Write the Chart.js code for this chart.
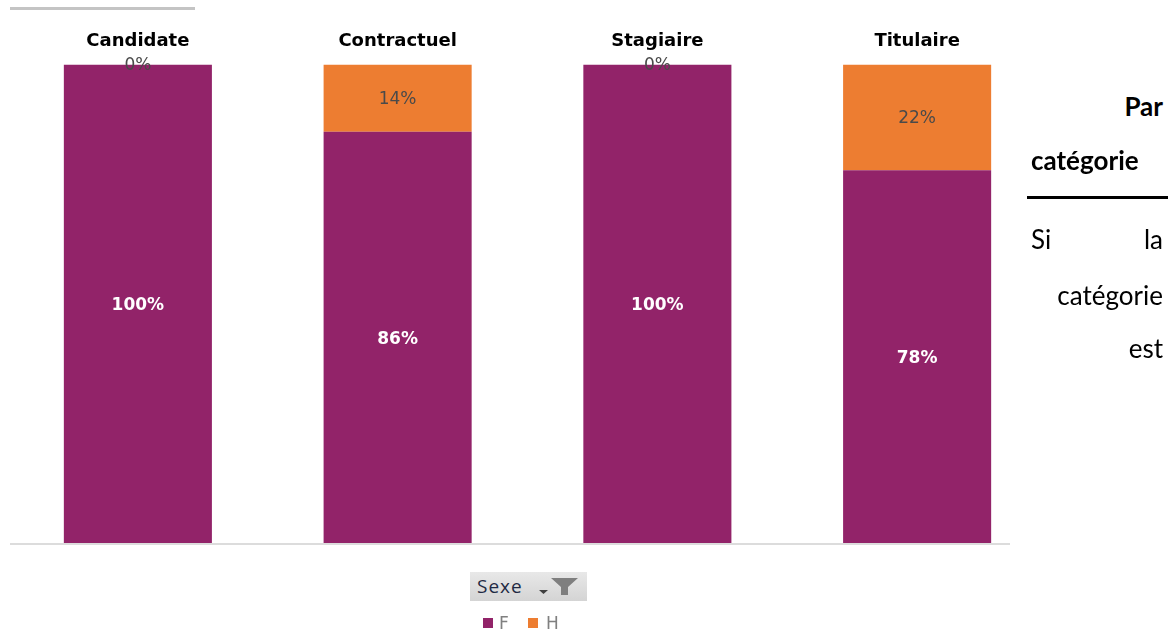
<!DOCTYPE html>
<html>
<head>
<meta charset="utf-8">
<script src="https://cdn.jsdelivr.net/npm/chart.js@4/dist/chart.umd.min.js"></script>
<style>
  html, body { margin: 0; padding: 0; background: #fff; }
  #page { position: relative; width: 1175px; height: 631px; overflow: hidden; }
  #chartBox { position: absolute; left: 0; top: 0; width: 1047px; height: 631px; }
  .rule { position: absolute; }
  .side { position: absolute; font-family: Lato, "Open Sans", sans-serif; font-size: 26px; line-height: 30px; color: #000; white-space: nowrap; }
  #sexe { position: absolute; left: 470px; top: 572px; width: 117px; height: 29px;
          background: linear-gradient(#e8e8e8, #d4d4d4); font-family: "Open Sans", sans-serif; font-size: 19px; letter-spacing: 1px; color: #1f2a44; }
  .leg { position: absolute; font-family: "DejaVu Sans", sans-serif; font-size: 17px; color: #808080; line-height: 20px; }
  .legBox { position: absolute; width: 10px; height: 10px; }
</style>
</head>
<body>
<div id="page">
  <div class="rule" style="left:10px; top:7px; width:185px; height:3px; background:#c4c4c4;"></div>
  <div id="chartBox"><canvas id="chart"></canvas></div>
  <div class="rule" style="left:10px; top:543px; width:1000px; height:2px; background:#dcdcdc;"></div>

  <div class="side" style="right:12px; top:91px; font-weight:bold;">Par</div>
  <div class="side" style="left:1031px; top:145px; font-weight:bold;">catégorie</div>
  <div class="rule" style="left:1027px; top:196px; width:141px; height:3px; background:#000;"></div>
  <div class="side" style="left:1031px; top:224px;">Si</div>
  <div class="side" style="right:12px; top:224px;">la</div>
  <div class="side" style="right:12px; top:280px;">catégorie</div>
  <div class="side" style="right:12px; top:333px;">est</div>

  <div id="sexe">
    <span style="position:absolute; left:7px; top:1px;">Sexe</span>
    <svg style="position:absolute; left:66px; top:4px;" width="48" height="22">
      <polygon points="3,14 12,14 7.5,18" fill="#404040"/>
      <polygon points="15,2 42,2 32,11 32,19 25,19 25,11" fill="#7f7f7f"/>
    </svg>
  </div>
  <div id="legend"></div>
</div>
<script>
const categories = ['Candidate', 'Contractuel', 'Stagiaire', 'Titulaire'];
const seriesNames = ['F', 'H'];
const valuesF = [100, 86, 100, 78];
const valuesH = [0, 14, 0, 22];
const colorF = '#922369';
const colorH = '#ED7D31';

// legend under the "Sexe" filter button
document.getElementById('legend').innerHTML =
  `<div class="legBox" style="left:483px; top:618px; background:${colorF}"></div>` +
  `<div class="leg" style="left:499px; top:613px;">${seriesNames[0]}</div>` +
  `<div class="legBox" style="left:528px; top:618px; background:${colorH}"></div>` +
  `<div class="leg" style="left:546px; top:613px;">${seriesNames[1]}</div>`;

// writes each segment's percentage at the middle of its bar piece
const segmentLabels = {
  id: 'segmentLabels',
  afterDatasetsDraw(chart) {
    const ctx = chart.ctx;
    ctx.save();
    ctx.textAlign = 'center';
    ctx.textBaseline = 'middle';
    chart.data.datasets.forEach((ds, i) => {
      const meta = chart.getDatasetMeta(i);
      meta.data.forEach((bar, j) => {
        const y = (bar.y + bar.base) / 2;
        if (i === 0) {
          ctx.font = 'bold 17px "DejaVu Sans", sans-serif';
          ctx.fillStyle = '#ffffff';
        } else {
          ctx.font = '17px "DejaVu Sans", sans-serif';
          ctx.fillStyle = '#4a4a4a';
        }
        ctx.fillText(ds.data[j] + '%', bar.x, y + 1);
      });
    });
    ctx.restore();
  }
};

new Chart(document.getElementById('chart'), {
  type: 'bar',
  data: {
    labels: categories,
    datasets: [
      { label: seriesNames[0], data: valuesF, backgroundColor: colorF, barPercentage: 0.57, categoryPercentage: 1 },
      { label: seriesNames[1], data: valuesH, backgroundColor: colorH, barPercentage: 0.57, categoryPercentage: 1 }
    ]
  },
  options: {
    responsive: true,
    maintainAspectRatio: false,
    animation: false,
    layout: { padding: { left: 8, right: 0, top: 19, bottom: 86 } },
    plugins: { legend: { display: false }, tooltip: { enabled: false } },
    scales: {
      x: {
        stacked: true,
        position: 'top',
        grid: { display: false, drawTicks: false },
        border: { display: false },
        ticks: { color: '#000', padding: 12, font: { family: '"DejaVu Sans", sans-serif', size: 18, weight: 'bold' } }
      },
      y: {
        stacked: true,
        display: false,
        min: 0,
        max: 100
      }
    }
  },
  plugins: [segmentLabels]
});
</script>
</body>
</html>
